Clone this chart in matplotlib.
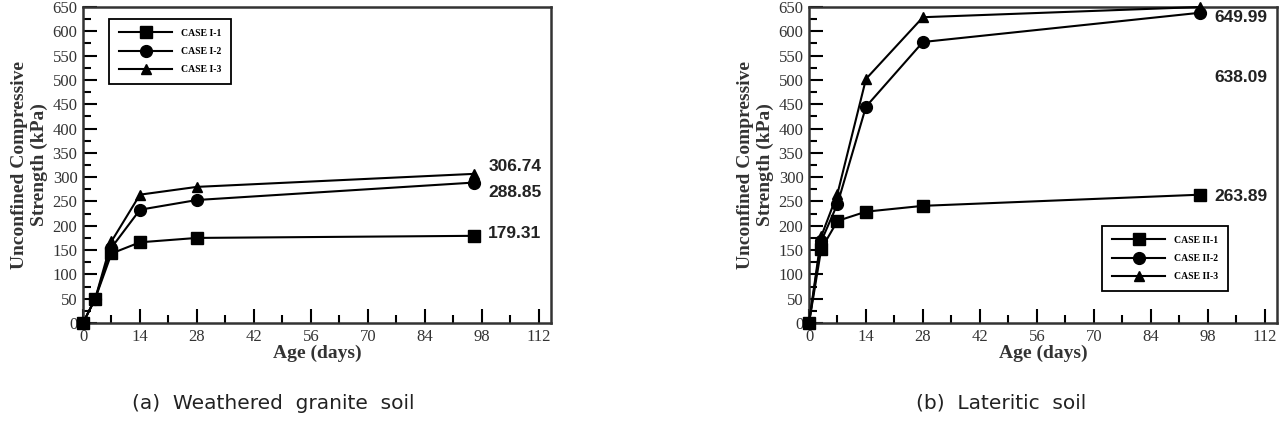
import numpy as np
import matplotlib
matplotlib.use('Agg')
import matplotlib.pyplot as plt
from matplotlib.ticker import MultipleLocator

# ages (days)
days = [0, 3, 7, 14, 28, 96]

# (a) weathered granite soil
case_i1 = [0, 50, 143, 166, 175, 179.31]
case_i2 = [0, 50, 155, 233, 253, 288.85]
case_i3 = [0, 50, 168, 264, 280, 306.74]
labels_a = ['CASE I-1', 'CASE I-2', 'CASE I-3']
notes_a = ['306.74', '288.85', '179.31']
note_y_a = [322, 269, 185]

# (b) lateritic soil
case_ii1 = [0, 152, 210, 229, 241, 263.89]
case_ii2 = [0, 168, 245, 445, 578, 638.09]
case_ii3 = [0, 178, 266, 502, 629, 649.99]
labels_b = ['CASE II-1', 'CASE II-2', 'CASE II-3']
notes_b = ['649.99', '638.09', '263.89']
note_y_b = [629, 504, 260]

markers = ['s', 'o', '^']
msizes = [9, 8.5, 6.5]

fig = plt.figure(figsize=(12.87, 4.23), dpi=100)
ax1 = fig.add_axes([83/1287, 100/423, 468/1287, 316/423])
ax2 = fig.add_axes([809/1287, 100/423, 468/1287, 316/423])

serif = 'Liberation Serif'


def draw(ax, series, labels, notes, note_y, leg_loc, leg_anchor):
    for ys, lab, mk, ms in zip(series, labels, markers, msizes):
        ax.plot(days, ys, color='black', lw=1.5, marker=mk, ms=ms,
                label=lab, clip_on=False, zorder=3)
    ax.set_xlim(0, 115)
    ax.set_ylim(0, 650)
    ax.xaxis.set_major_locator(MultipleLocator(14))
    ax.xaxis.set_minor_locator(MultipleLocator(7))
    ax.yaxis.set_major_locator(MultipleLocator(50))
    ax.yaxis.set_minor_locator(MultipleLocator(25))
    ax.set_xticks([0, 14, 28, 42, 56, 70, 84, 98, 112])
    ax.tick_params(which='major', direction='in', length=10, width=1.5,
                   labelsize=12, labelcolor='#333333', pad=4)
    ax.tick_params(which='minor', direction='in', length=6, width=1.5)
    for lab in ax.get_xticklabels() + ax.get_yticklabels():
        lab.set_family(serif)
    for sp in ax.spines.values():
        sp.set_linewidth(1.8)
        sp.set_color('#333333')
    ax.set_xlabel('Age (days)', family=serif, fontweight='bold',
                  fontsize=14, labelpad=0, color='#333333')
    ax.set_ylabel('Unconfined Compressive\nStrength (kPa)', family=serif,
                  fontweight='bold', fontsize=14, labelpad=3,
                  color='#333333', linespacing=1.25)
    for txt, yv in zip(notes, note_y):
        ax.text(99.6, yv, txt, fontsize=12.5, fontweight='bold',
                family='Liberation Sans', va='center', ha='left',
                color='#222222')
    leg = ax.legend(loc=leg_loc, bbox_to_anchor=leg_anchor, fancybox=False,
                    edgecolor='black', framealpha=1, handlelength=5.5,
                    borderpad=1.0, labelspacing=0.95, handletextpad=0.9,
                    borderaxespad=0,
                    prop={'family': serif, 'weight': 'bold', 'size': 7})
    leg.get_frame().set_linewidth(1.3)


draw(ax1, [case_i1, case_i2, case_i3], labels_a, notes_a, note_y_a,
     'upper left', (0.056, 0.962))
draw(ax2, [case_ii1, case_ii2, case_ii3], labels_b, notes_b, note_y_b,
     'lower right', (0.895, 0.101))

fig.text(273/1287, 1 - 403/423, '(a)  Weathered  granite  soil',
         fontsize=14.5, ha='center', va='center', color='#222222')
fig.text(1001/1287, 1 - 403/423, '(b)  Lateritic  soil',
         fontsize=14.5, ha='center', va='center', color='#222222')

fig.savefig('out.png', dpi=100)
